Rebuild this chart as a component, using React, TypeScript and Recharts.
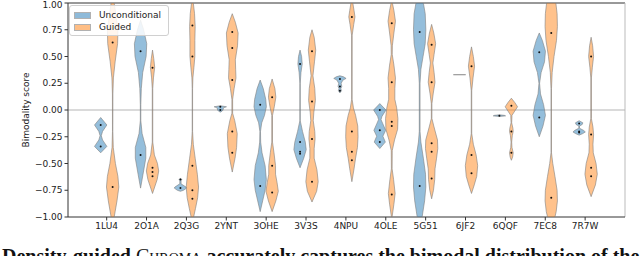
import React from 'react';
import {
  ScatterChart,
  Scatter,
  XAxis,
  YAxis,
  ReferenceLine,
} from 'recharts';

const PROTEINS = ['1LU4', '2O1A', '2Q3G', '2YNT', '3OHE', '3V3S', '4NPU', '4OLE', '5G51', '6JF2', '6QQF', '7EC8', '7R7W'];

// violin outlines: [score, relative half width], top to bottom
const UNCONDITIONAL_SHAPES: [number, number][][] = [
  [[-0.07, 0], [-0.14, 1], [-0.2, 0.3], [-0.24, 0.1], [-0.28, 0.3], [-0.34, 1], [-0.4, 0]],
  [[0.84, 0], [0.75, 0.5], [0.62, 1], [0.5, 0.9], [0.35, 0.35], [0.2, 0.12], [0.05, 0.04], [-0.1, 0.04], [-0.22, 0.25], [-0.35, 0.85], [-0.45, 0.85], [-0.6, 0.4], [-0.73, 0]],
  [[-0.64, 0], [-0.65, 0.25], [-0.66, 0.1], [-0.69, 0.1], [-0.72, 0.9], [-0.73, 1], [-0.75, 0.5], [-0.76, 0]],
  [[0.04, 0], [0.03, 1], [0.02, 0.5], [0, 0.45], [-0.01, 0.3], [-0.02, 0]],
  [[0.28, 0], [0.2, 0.5], [0.1, 0.9], [0.03, 1], [-0.05, 0.7], [-0.12, 0.25], [-0.2, 0.05], [-0.3, 0.08], [-0.4, 0.3], [-0.52, 0.8], [-0.65, 1], [-0.75, 0.8], [-0.85, 0.4], [-0.95, 0]],
  [[0.56, 0], [0.5, 0.25], [0.43, 0.35], [0.35, 0.15], [0.25, 0.03], [-0.1, 0.03], [-0.2, 0.4], [-0.3, 0.85], [-0.37, 1], [-0.45, 0.6], [-0.54, 0]],
  [[0.32, 0], [0.31, 0.6], [0.295, 1], [0.28, 0.5], [0.25, 0.2], [0.22, 0.3], [0.2, 0.15], [0.18, 0.25], [0.16, 0]],
  [[0.06, 0], [0, 1], [-0.06, 0.35], [-0.09, 0.2], [-0.13, 0.5], [-0.19, 0.95], [-0.245, 0.5], [-0.3, 0.9], [-0.36, 0]],
  [[1, 0.6], [0.9, 0.9], [0.75, 1], [0.62, 0.9], [0.5, 0.55], [0.38, 0.2], [0.25, 0.06], [-0.2, 0.06], [-0.3, 0.2], [-0.45, 0.6], [-0.6, 0.95], [-0.72, 1], [-0.85, 0.8], [-1, 0.4]],
  [[0.33, 1], [0.33, 1]],
  [[-0.045, 0], [-0.05, 0.8], [-0.055, 1], [-0.06, 0]],
  [[0.72, 0], [0.65, 0.5], [0.55, 1], [0.45, 0.85], [0.35, 0.3], [0.25, 0.05], [0.15, 0.2], [0.05, 0.7], [-0.05, 1], [-0.15, 0.6], [-0.25, 0]],
  [[-0.1, 0], [-0.12, 0.6], [-0.135, 0.5], [-0.15, 0.05], [-0.17, 0.05], [-0.19, 0.7], [-0.205, 1], [-0.22, 0.6], [-0.235, 0]],
];

const GUIDED_SHAPES: [number, number][][] = [
  [[1, 0.25], [0.9, 0.5], [0.75, 0.85], [0.62, 0.8], [0.45, 0.4], [0.3, 0.12], [0.15, 0.04], [-0.2, 0.03], [-0.35, 0.1], [-0.5, 0.45], [-0.62, 0.85], [-0.72, 1], [-0.85, 0.7], [-0.95, 0.4], [-1, 0.25]],
  [[0.56, 0], [0.48, 0.2], [0.4, 0.35], [0.3, 0.15], [0.2, 0.04], [-0.3, 0.04], [-0.42, 0.3], [-0.5, 0.8], [-0.57, 1], [-0.65, 0.75], [-0.78, 0]],
  [[1, 0.15], [0.9, 0.35], [0.78, 0.45], [0.65, 0.4], [0.5, 0.4], [0.4, 0.25], [0.3, 0.08], [0.2, 0.03], [-0.2, 0.03], [-0.32, 0.15], [-0.45, 0.45], [-0.6, 0.8], [-0.72, 1], [-0.82, 0.85], [-0.92, 0.5], [-1, 0.2]],
  [[0.9, 0], [0.82, 0.5], [0.72, 0.95], [0.6, 0.85], [0.47, 0.5], [0.38, 0.55], [0.3, 0.6], [0.2, 0.3], [0.1, 0.06], [-0.03, 0.06], [-0.1, 0.4], [-0.22, 0.8], [-0.35, 0.7], [-0.45, 0.45], [-0.58, 0]],
  [[0.29, 0], [0.2, 0.45], [0.12, 0.6], [0.03, 0.35], [-0.05, 0.06], [-0.3, 0.06], [-0.4, 0.3], [-0.52, 0.55], [-0.6, 0.55], [-0.68, 0.8], [-0.76, 1], [-0.85, 0.6], [-0.95, 0]],
  [[0.75, 0], [0.68, 0.35], [0.56, 0.6], [0.45, 0.4], [0.32, 0.15], [0.2, 0.45], [0.09, 0.55], [-0.02, 0.3], [-0.1, 0.2], [-0.2, 0.45], [-0.27, 0.5], [-0.36, 0.35], [-0.45, 0.35], [-0.56, 0.8], [-0.67, 1], [-0.76, 0.75], [-0.86, 0]],
  [[1, 0.15], [0.93, 0.35], [0.87, 0.5], [0.8, 0.3], [0.7, 0.05], [0.1, 0.04], [0.02, 0.25], [-0.05, 0.6], [-0.15, 0.95], [-0.25, 1], [-0.35, 0.9], [-0.45, 0.6], [-0.55, 0.35], [-0.67, 0]],
  [[1, 0.1], [0.93, 0.35], [0.83, 0.6], [0.72, 0.35], [0.6, 0.1], [0.52, 0.08], [0.42, 0.35], [0.3, 0.6], [0.2, 0.5], [0.1, 0.5], [0.02, 0.8], [-0.08, 1], [-0.18, 0.95], [-0.28, 0.45], [-0.38, 0.08], [-0.55, 0.06], [-0.65, 0.3], [-0.78, 0.55], [-0.88, 0.35], [-1, 0.05]],
  [[0.8, 0], [0.72, 0.35], [0.62, 0.65], [0.52, 0.4], [0.44, 0.2], [0.35, 0.4], [0.26, 0.55], [0.15, 0.25], [0.06, 0.05], [-0.08, 0.05], [-0.15, 0.35], [-0.28, 0.95], [-0.36, 1], [-0.45, 0.8], [-0.55, 0.55], [-0.65, 0.5], [-0.75, 0.3], [-0.83, 0]],
  [[0.59, 0], [0.5, 0.3], [0.41, 0.5], [0.3, 0.25], [0.18, 0.04], [-0.22, 0.04], [-0.32, 0.3], [-0.42, 0.75], [-0.52, 1], [-0.62, 0.85], [-0.7, 0.45], [-0.78, 0]],
  [[0.11, 0], [0.07, 0.55], [0.03, 1], [-0.01, 0.55], [-0.05, 0.1], [-0.12, 0.05], [-0.17, 0.25], [-0.2, 0.3], [-0.24, 0.15], [-0.3, 0.05], [-0.35, 0.1], [-0.4, 0.3], [-0.44, 0.2], [-0.47, 0]],
  [[1, 0.75], [0.9, 0.95], [0.78, 1], [0.65, 0.85], [0.5, 0.45], [0.35, 0.15], [0.2, 0.04], [-0.4, 0.04], [-0.5, 0.25], [-0.62, 0.6], [-0.75, 0.95], [-0.85, 1], [-0.95, 0.8], [-1, 0.6]],
  [[0.68, 0], [0.6, 0.25], [0.5, 0.4], [0.4, 0.2], [0.3, 0.05], [-0.08, 0.05], [-0.16, 0.3], [-0.23, 0.4], [-0.32, 0.3], [-0.4, 0.35], [-0.5, 0.8], [-0.6, 1], [-0.7, 0.7], [-0.81, 0]],
];

// the black dots inside each violin
const UNCONDITIONAL_DOTS: number[][] = [
  [-0.14, -0.34], [0.55, -0.42], [-0.65, -0.73], [0.03, 0], [0.05, -0.71], [0.43, -0.3, -0.39, -0.41],
  [0.29, 0.22, 0.18], [0, -0.19, -0.3], [0.73, -0.71], [], [-0.053], [0.54, -0.07], [-0.125, -0.2, -0.21],
];
const GUIDED_DOTS: number[][] = [
  [0.63, -0.72], [0.395, -0.54, -0.58, -0.62], [0.79, 0.5, -0.52, -0.75, -0.83], [0.73, 0.58, 0.28, -0.2, -0.4],
  [0.12, -0.52, -0.77], [0.55, 0.08, -0.27, -0.67], [0.87, -0.2, -0.39, -0.47], [0.81, 0.26, -0.11, -0.15, -0.79],
  [0.61, 0.26, -0.31, -0.39, -0.64], [0.41, -0.42, -0.59], [0.04, -0.2, -0.4], [0.72, -0.82], [0.5, -0.23, -0.54, -0.62],
];

const Y_TICKS = [-1, -0.75, -0.5, -0.25, 0, 0.25, 0.5, 0.75, 1];

const OFFSET = 0.15;
const HALF_WIDTH = 0.155;
const BLUE = '#1f77b4';
const ORANGE = '#ff7f0e';

function outline(shape: [number, number][], center: number) {
  const right = [...shape].reverse().map(([y, w]) => ({ x: center + w * HALF_WIDTH, y }));
  const left = shape.map(([y, w]) => ({ x: center - w * HALF_WIDTH, y }));
  const pts = [...right, ...left];
  return [...pts, pts[0]];
}

const violins = PROTEINS.flatMap((name, i) => [
  { key: `u-${name}`, color: BLUE, points: outline(UNCONDITIONAL_SHAPES[i], i - OFFSET) },
  { key: `g-${name}`, color: ORANGE, points: outline(GUIDED_SHAPES[i], i + OFFSET) },
]);

const dots = PROTEINS.flatMap((_, i) => [
  ...UNCONDITIONAL_DOTS[i].map((y) => ({ x: i - OFFSET, y })),
  ...GUIDED_DOTS[i].map((y) => ({ x: i + OFFSET, y })),
]);

const fmtY = (v: number) => v.toFixed(2).replace('-', '\u2212');

const LegendBox = () => (
  <div
    style={{
      position: 'absolute',
      top: 5,
      left: 69,
      border: '1px solid #d0d0d0',
      borderRadius: 3,
      background: 'rgba(255,255,255,0.85)',
      padding: '3px 7px 2px 4px',
      fontSize: 9,
      lineHeight: '12px',
      color: '#222',
    }}
  >
    {[
      { label: 'Unconditional', color: BLUE },
      { label: 'Guided', color: ORANGE },
    ].map((it) => (
      <div key={it.label} style={{ display: 'flex', alignItems: 'center' }}>
        <span
          style={{
            display: 'inline-block',
            width: 15,
            height: 5,
            marginRight: 8,
            background: it.color,
            opacity: 0.5,
            border: '1px solid #666',
          }}
        />
        {it.label}
      </div>
    ))}
  </div>
);

export default function App() {
  return (
    <div
      style={{
        position: 'absolute',
        top: 0,
        left: 0,
        width: 640,
        height: 256,
        overflow: 'hidden',
        background: '#fff',
        fontFamily: '"DejaVu Sans", sans-serif',
      }}
    >
      <ScatterChart width={640} height={256} margin={{ top: 3, right: 15, bottom: 0, left: 0 }}>
        <XAxis
          type="number"
          dataKey="x"
          domain={[-0.97, 13.0]}
          ticks={PROTEINS.map((_, i) => i)}
          tickFormatter={(v: number) => PROTEINS[v] ?? ''}
          allowDataOverflow
          height={39}
          tickSize={3.5}
          stroke="#333"
          tick={{ fill: '#222', fontSize: 9 }}
        />
        <YAxis
          type="number"
          dataKey="y"
          domain={[-1, 1]}
          ticks={Y_TICKS}
          tickFormatter={fmtY}
          allowDataOverflow
          width={68}
          tickSize={3.5}
          stroke="#333"
          tick={{ fill: '#222', fontSize: 9 }}
          label={{
            value: 'Bimodality score',
            angle: -90,
            position: 'insideLeft',
            offset: 26,
            style: { textAnchor: 'middle', fontSize: 9, fill: '#222' },
          }}
        />
        <ReferenceLine y={1} stroke="#333" />
        <ReferenceLine x={13.0} stroke="#bbb" />
        <ReferenceLine y={0} stroke="#b5b5b5" />
        {violins.map((v) => (
          <Scatter
            key={v.key}
            data={v.points}
            isAnimationActive={false}
            line={{ stroke: '#808080', strokeWidth: 0.6, fill: v.color, fillOpacity: 0.48 }}
            shape={() => <g />}
          />
        ))}
        <Scatter
          data={dots}
          isAnimationActive={false}
          shape={(p: any) => <circle cx={p.cx} cy={p.cy} r={1} fill="#111" />}
        />
      </ScatterChart>
      <LegendBox />
      <div
        style={{
          position: 'absolute',
          top: 245,
          left: 2,
          whiteSpace: 'nowrap',
          fontFamily: '"Liberation Serif", serif',
          fontWeight: 'bold',
          fontSize: 20,
          color: '#111',
        }}
      >
        Density-guided <span style={{ fontVariant: 'small-caps', fontWeight: 'normal' }}>Chroma</span> accurately captures the bimodal distribution of the
      </div>
    </div>
  );
}
